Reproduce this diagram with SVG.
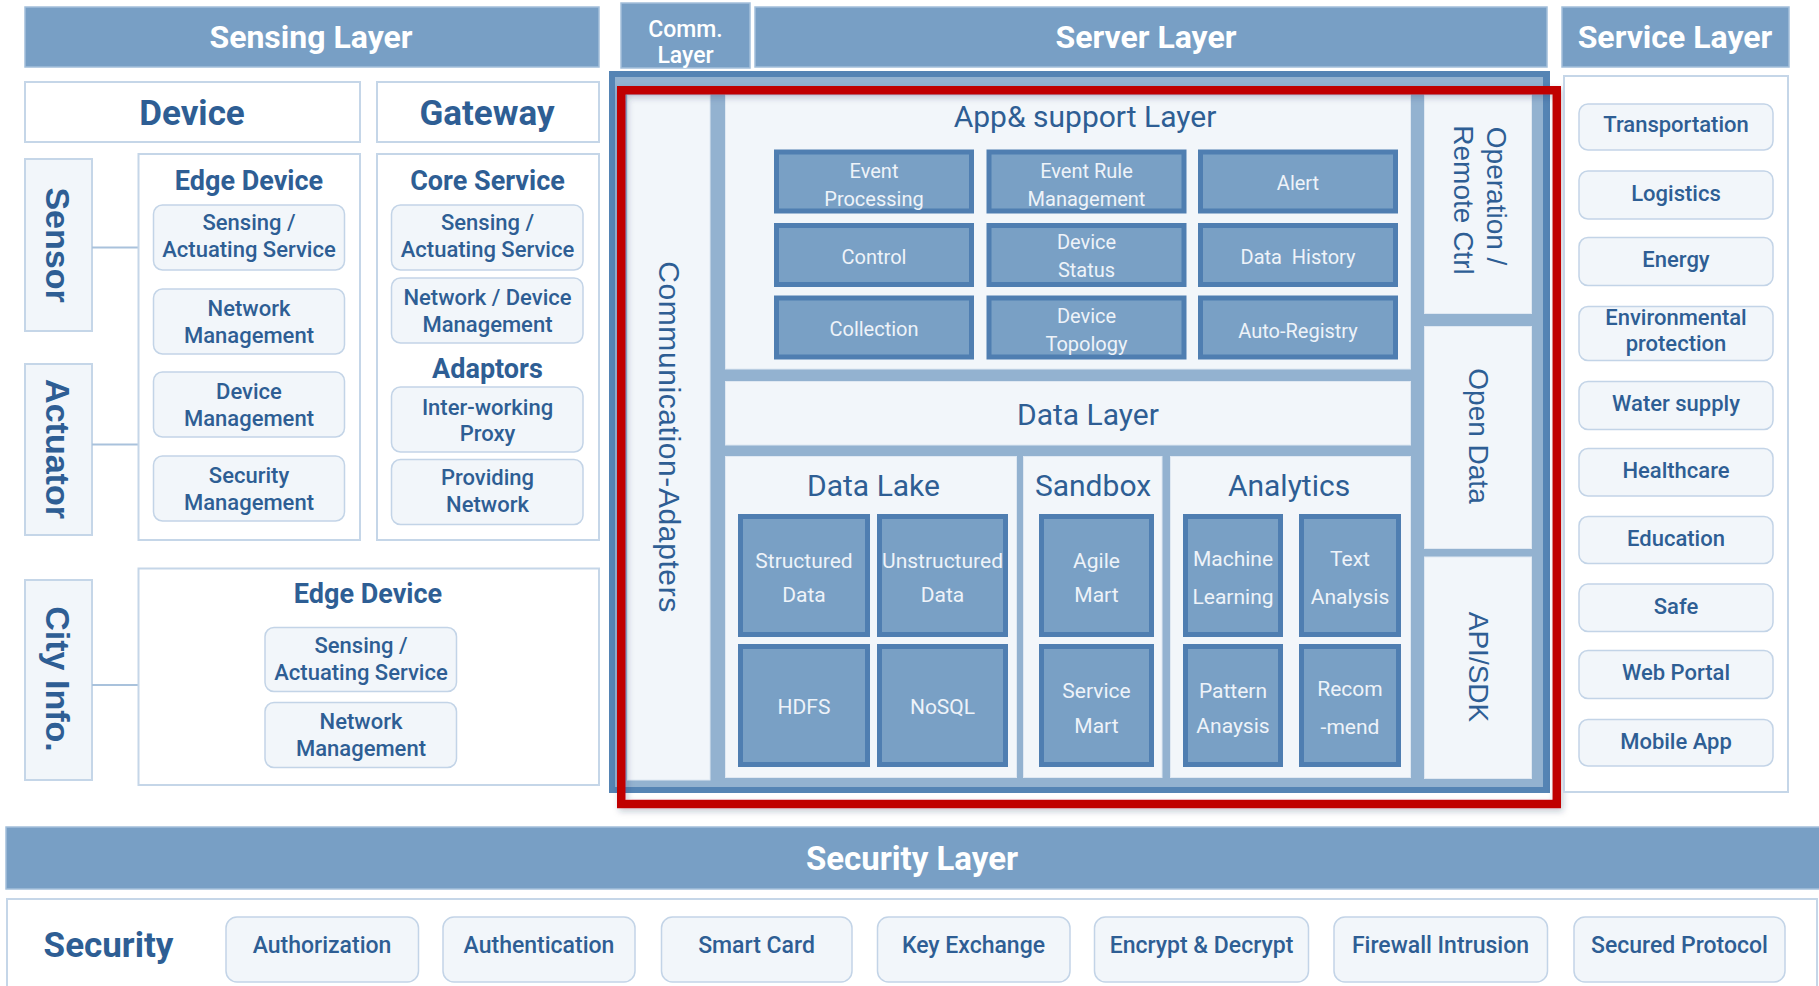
<svg xmlns="http://www.w3.org/2000/svg" width="1819" height="986" viewBox="0 0 1819 986">
  <defs>
    <style>
      .hdr { fill: #789fc5; stroke: #a3bfda; stroke-width: 1.5; }
      .hdr-t { fill: #ffffff; font-family: Roboto, "Liberation Sans", sans-serif; font-weight: bold; font-size: 32px; text-anchor: middle; dominant-baseline: central; }
      .box { fill: #ffffff; stroke: #c5d6e8; stroke-width: 2; }
      .side { fill: #f2f6fa; stroke: #c5d6e8; stroke-width: 2; }
      .item { fill: #f2f6fa; stroke: #c3d4e7; stroke-width: 1.5; }
      .pnl { fill: #f2f6fa; stroke: #dfe8f2; stroke-width: 1; }
      .dk { fill: #79a0c5; stroke: #4f7eb1; stroke-width: 5; }
      .big { fill: #2e5e94; font-family: Roboto, "Liberation Sans", sans-serif; font-weight: bold; font-size: 35px; text-anchor: middle; dominant-baseline: central; }
      .ttl { fill: #2e5e94; font-family: Roboto, "Liberation Sans", sans-serif; font-weight: bold; font-size: 27px; text-anchor: middle; dominant-baseline: central; }
      .it { fill: #2e5e94; font-family: Roboto, "Liberation Sans", sans-serif; font-weight: 500; font-size: 22px; text-anchor: middle; dominant-baseline: central; }
      .pt { fill: #2e5e94; font-family: Roboto, "Liberation Sans", sans-serif; font-size: 30px; text-anchor: middle; dominant-baseline: central; }
      .dt { fill: #eef3f9; font-family: Roboto, "Liberation Sans", sans-serif; font-size: 20px; text-anchor: middle; dominant-baseline: central; }
      .dt2 { fill: #eef3f9; font-family: Roboto, "Liberation Sans", sans-serif; font-size: 21px; text-anchor: middle; dominant-baseline: central; }
      .rv { fill: #2e5e94; font-family: "Liberation Sans", Arial, sans-serif; font-size: 28px; text-anchor: middle; dominant-baseline: central; }
      .rvb { fill: #2e5e94; font-family: "Liberation Sans", Arial, sans-serif; font-weight: bold; font-size: 34px; text-anchor: middle; dominant-baseline: central; }
      .conn { stroke: #a9c2dc; stroke-width: 2; fill: none; }
    </style>
    <filter id="shadow" x="-5%" y="-5%" width="110%" height="110%">
      <feDropShadow dx="2" dy="3" stdDeviation="3" flood-color="#1f3550" flood-opacity="0.25"/>
    </filter>
  </defs>

  <rect width="1819" height="986" fill="#ffffff"/>

  <!-- layer headers -->
  <g id="sensing-layer-header">
    <rect class="hdr" x="25" y="7" width="574" height="60"/>
    <text class="hdr-t" x="311" y="37">Sensing Layer</text>
  </g>
  <g id="comm-layer-header">
    <rect class="hdr" x="621" y="3" width="129" height="65"/>
    <text class="hdr-t" x="685.5" y="29" style="font-size:23px;font-weight:500">Comm.</text>
    <text class="hdr-t" x="685.5" y="55" style="font-size:23px;font-weight:500">Layer</text>
  </g>
  <g id="server-layer-header">
    <rect class="hdr" x="755" y="7" width="792" height="60"/>
    <text class="hdr-t" x="1146" y="37">Server Layer</text>
  </g>
  <g id="service-layer-header">
    <rect class="hdr" x="1562" y="7" width="227" height="60"/>
    <text class="hdr-t" x="1675" y="37">Service Layer</text>
  </g>

  <!-- sensing layer -->
  <g id="device">
    <rect class="box" x="25" y="82" width="335" height="60"/>
    <text class="big" x="192" y="113">Device</text>
  </g>
  <g id="gateway">
    <rect class="box" x="377" y="82" width="222" height="60"/>
    <text class="big" x="487" y="113">Gateway</text>
  </g>
  <g id="sensor">
    <rect class="side" x="25" y="159" width="67" height="172"/>
    <text class="rvb" transform="translate(58,245) rotate(90)">Sensor</text>
  </g>
  <g id="actuator">
    <rect class="side" x="25" y="364" width="67" height="171"/>
    <text class="rvb" transform="translate(58,449) rotate(90)">Actuator</text>
  </g>
  <g id="city-info">
    <rect class="side" x="25" y="580" width="67" height="200"/>
    <text class="rvb" transform="translate(58,679) rotate(90)">City Info.</text>
  </g>

  <g id="connectors">
    <line class="conn" x1="92" y1="247.5" x2="138.5" y2="247.5"/>
    <line class="conn" x1="92" y1="444.5" x2="138.5" y2="444.5"/>
    <line class="conn" x1="92" y1="685" x2="138.5" y2="685"/>
  </g>

  <g id="edge-device-1">
    <rect class="box" x="138.5" y="154" width="221.5" height="386"/>
    <text class="ttl" x="249" y="181">Edge Device</text>
    <rect class="item" x="153.5" y="205" width="191" height="65" rx="9"/>
    <text class="it" x="249" y="222.5">Sensing /</text>
    <text class="it" x="249" y="249.5">Actuating Service</text>
    <rect class="item" x="153.5" y="289" width="191" height="65" rx="9"/>
    <text class="it" x="249" y="308.5">Network</text>
    <text class="it" x="249" y="335.5">Management</text>
    <rect class="item" x="153.5" y="372" width="191" height="65" rx="9"/>
    <text class="it" x="249" y="391">Device</text>
    <text class="it" x="249" y="418">Management</text>
    <rect class="item" x="153.5" y="456" width="191" height="65" rx="9"/>
    <text class="it" x="249" y="475.5">Security</text>
    <text class="it" x="249" y="502">Management</text>
  </g>

  <g id="core-service">
    <rect class="box" x="377" y="154" width="222" height="386"/>
    <text class="ttl" x="487.5" y="181">Core Service</text>
    <rect class="item" x="391.5" y="205" width="191.5" height="65" rx="9"/>
    <text class="it" x="487.5" y="222.5">Sensing /</text>
    <text class="it" x="487.5" y="249.5">Actuating Service</text>
    <rect class="item" x="391.5" y="278" width="191.5" height="65" rx="9"/>
    <text class="it" x="487.5" y="297.5">Network / Device</text>
    <text class="it" x="487.5" y="324.5">Management</text>
    <text class="ttl" x="487.5" y="369">Adaptors</text>
    <rect class="item" x="391.5" y="387" width="191.5" height="65" rx="9"/>
    <text class="it" x="487.5" y="407">Inter-working</text>
    <text class="it" x="487.5" y="433">Proxy</text>
    <rect class="item" x="391.5" y="459.5" width="191.5" height="65" rx="9"/>
    <text class="it" x="487.5" y="477">Providing</text>
    <text class="it" x="487.5" y="504">Network</text>
  </g>

  <g id="edge-device-2">
    <rect class="box" x="138.5" y="568.5" width="460.5" height="216.5"/>
    <text class="ttl" x="368" y="594">Edge Device</text>
    <rect class="item" x="265" y="627.5" width="191.5" height="64" rx="9"/>
    <text class="it" x="361" y="645">Sensing /</text>
    <text class="it" x="361" y="672">Actuating Service</text>
    <rect class="item" x="265" y="702.5" width="191.5" height="65" rx="9"/>
    <text class="it" x="361" y="721.5">Network</text>
    <text class="it" x="361" y="748.5">Management</text>
  </g>

  <!-- server layer frame -->
  <g id="server-frame">
    <rect x="609" y="71" width="941" height="722" fill="#5584b4"/>
    <rect x="615" y="77" width="928" height="710" fill="#93b2d0"/>
  </g>

  <g id="communication-adapters">
    <rect class="pnl" x="627.5" y="95" width="82.5" height="685"/>
    <text class="rv" transform="translate(669,437) rotate(90)" style="font-size:30px;letter-spacing:0.6px">Communication-Adapters</text>
  </g>

  <g id="app-support-layer">
    <rect class="pnl" x="725.5" y="95" width="685" height="274"/>
    <text class="pt" x="1085" y="116">App&amp; support Layer</text>
    <g id="event-processing">
      <rect class="dk" x="776.5" y="152" width="195" height="59"/>
      <text class="dt" x="874" y="170.5">Event</text>
      <text class="dt" x="874" y="199">Processing</text>
    </g>
    <g id="event-rule-management">
      <rect class="dk" x="989" y="152" width="195" height="59"/>
      <text class="dt" x="1086.5" y="170.5">Event Rule</text>
      <text class="dt" x="1086.5" y="199">Management</text>
    </g>
    <g id="alert">
      <rect class="dk" x="1200.5" y="152" width="195" height="59"/>
      <text class="dt" x="1298" y="183">Alert</text>
    </g>
    <g id="control">
      <rect class="dk" x="776.5" y="225.5" width="195" height="59"/>
      <text class="dt" x="874" y="257">Control</text>
    </g>
    <g id="device-status">
      <rect class="dk" x="989" y="225.5" width="195" height="59"/>
      <text class="dt" x="1086.5" y="241.5">Device</text>
      <text class="dt" x="1086.5" y="270">Status</text>
    </g>
    <g id="data-history">
      <rect class="dk" x="1200.5" y="225.5" width="195" height="59"/>
      <text class="dt" x="1298" y="257" xml:space="preserve">Data  History</text>
    </g>
    <g id="collection">
      <rect class="dk" x="776.5" y="298" width="195" height="59"/>
      <text class="dt" x="874" y="329">Collection</text>
    </g>
    <g id="device-topology">
      <rect class="dk" x="989" y="298" width="195" height="59"/>
      <text class="dt" x="1086.5" y="315.5">Device</text>
      <text class="dt" x="1086.5" y="344">Topology</text>
    </g>
    <g id="auto-registry">
      <rect class="dk" x="1200.5" y="298" width="195" height="59"/>
      <text class="dt" x="1298" y="331">Auto-Registry</text>
    </g>
  </g>

  <g id="data-layer">
    <rect class="pnl" x="725.5" y="381.5" width="685" height="63.5"/>
    <text class="pt" x="1088" y="414">Data Layer</text>
  </g>

  <g id="data-lake">
    <rect class="pnl" x="725.5" y="456.5" width="291" height="321"/>
    <text class="pt" x="873.5" y="485">Data Lake</text>
    <rect class="dk" x="740.5" y="516.5" width="127" height="118"/>
    <text class="dt2" x="804" y="560.5">Structured</text>
    <text class="dt2" x="804" y="595">Data</text>
    <rect class="dk" x="879.5" y="516.5" width="126" height="118"/>
    <text class="dt2" x="942.5" y="560.5">Unstructured</text>
    <text class="dt2" x="942.5" y="595">Data</text>
    <rect class="dk" x="740.5" y="646.5" width="127" height="118"/>
    <text class="dt2" x="804" y="707">HDFS</text>
    <rect class="dk" x="879.5" y="646.5" width="126" height="118"/>
    <text class="dt2" x="942.5" y="707">NoSQL</text>
  </g>

  <g id="sandbox">
    <rect class="pnl" x="1023.5" y="456.5" width="138.5" height="321"/>
    <text class="pt" x="1093" y="485">Sandbox</text>
    <rect class="dk" x="1041.5" y="516.5" width="110" height="118"/>
    <text class="dt2" x="1096.5" y="560.5">Agile</text>
    <text class="dt2" x="1096.5" y="595">Mart</text>
    <rect class="dk" x="1041.5" y="646.5" width="110" height="118"/>
    <text class="dt2" x="1096.5" y="690.5">Service</text>
    <text class="dt2" x="1096.5" y="725.5">Mart</text>
  </g>

  <g id="analytics">
    <rect class="pnl" x="1170.5" y="456.5" width="240" height="321"/>
    <text class="pt" x="1289" y="485">Analytics</text>
    <rect class="dk" x="1185.5" y="516.5" width="95" height="118"/>
    <text class="dt2" x="1233" y="559">Machine</text>
    <text class="dt2" x="1233" y="597">Learning</text>
    <rect class="dk" x="1301.5" y="516.5" width="97" height="118"/>
    <text class="dt2" x="1350" y="558.5">Text</text>
    <text class="dt2" x="1350" y="597">Analysis</text>
    <rect class="dk" x="1185.5" y="646.5" width="95" height="118"/>
    <text class="dt2" x="1233" y="690.5">Pattern</text>
    <text class="dt2" x="1233" y="725.5">Anaysis</text>
    <rect class="dk" x="1301.5" y="646.5" width="97" height="118"/>
    <text class="dt2" x="1350" y="689">Recom</text>
    <text class="dt2" x="1350" y="727">-mend</text>
  </g>

  <g id="operation-remote-ctrl">
    <rect class="pnl" x="1424.5" y="95" width="107" height="218.5"/>
    <text class="rv" transform="translate(1480,200) rotate(90)">
      <tspan x="0" y="-16.5">Operation /</tspan>
      <tspan x="0" y="16.5">Remote Ctrl</tspan>
    </text>
  </g>
  <g id="open-data">
    <rect class="pnl" x="1424.5" y="326.5" width="107" height="222"/>
    <text class="rv" transform="translate(1478,436) rotate(90)">Open Data</text>
  </g>
  <g id="api-sdk">
    <rect class="pnl" x="1424.5" y="557" width="107" height="221.5"/>
    <text class="rv" transform="translate(1478,667) rotate(90)">API/SDK</text>
  </g>

  <!-- highlight outline round the server layer -->
  <rect id="highlight" x="621.25" y="90.25" width="935.5" height="713.75" fill="none" stroke="#c00000" stroke-width="8.5" filter="url(#shadow)"/>

  <!-- service layer -->
  <g id="service-layer">
    <rect class="box" x="1564" y="76" width="224" height="716"/>
    <rect class="item" x="1579" y="104" width="194" height="46" rx="9"/>
    <text class="it" x="1676" y="124.5">Transportation</text>
    <rect class="item" x="1579" y="171" width="194" height="48" rx="9"/>
    <text class="it" x="1676" y="193">Logistics</text>
    <rect class="item" x="1579" y="237.5" width="194" height="48" rx="9"/>
    <text class="it" x="1676" y="259.5">Energy</text>
    <rect class="item" x="1579" y="306.5" width="194" height="54" rx="9"/>
    <text class="it" x="1676" y="317">Environmental</text>
    <text class="it" x="1676" y="343.5">protection</text>
    <rect class="item" x="1579" y="381.5" width="194" height="48" rx="9"/>
    <text class="it" x="1676" y="403">Water supply</text>
    <rect class="item" x="1579" y="448.5" width="194" height="47.5" rx="9"/>
    <text class="it" x="1676" y="470">Healthcare</text>
    <rect class="item" x="1579" y="516.5" width="194" height="47" rx="9"/>
    <text class="it" x="1676" y="538">Education</text>
    <rect class="item" x="1579" y="584" width="194" height="47.5" rx="9"/>
    <text class="it" x="1676" y="606">Safe</text>
    <rect class="item" x="1579" y="650.5" width="194" height="48" rx="9"/>
    <text class="it" x="1676" y="672.5">Web Portal</text>
    <rect class="item" x="1579" y="719.5" width="194" height="46.5" rx="9"/>
    <text class="it" x="1676" y="741">Mobile App</text>
  </g>

  <!-- security layer -->
  <g id="security-layer-header">
    <rect class="hdr" x="6" y="827" width="1816" height="62"/>
    <text class="hdr-t" x="912" y="858" style="font-size:33px">Security Layer</text>
  </g>
  <g id="security-layer">
    <rect class="box" x="7" y="899" width="1810" height="100"/>
    <text class="big" x="108.5" y="945" style="font-size:35px">Security</text>
    <rect class="item" x="226" y="917" width="192.5" height="65" rx="11"/>
    <text class="it" x="322" y="945.5" style="font-size:23px">Authorization</text>
    <rect class="item" x="443" y="917" width="192" height="65" rx="11"/>
    <text class="it" x="539" y="945.5" style="font-size:23px">Authentication</text>
    <rect class="item" x="661.5" y="917" width="190.5" height="65" rx="11"/>
    <text class="it" x="756.5" y="945.5" style="font-size:23px">Smart Card</text>
    <rect class="item" x="877.5" y="917" width="192.5" height="65" rx="11"/>
    <text class="it" x="973.5" y="945.5" style="font-size:23px">Key Exchange</text>
    <rect class="item" x="1094.5" y="917" width="214" height="65" rx="11"/>
    <text class="it" x="1201.5" y="945.5" style="font-size:23px">Encrypt &amp; Decrypt</text>
    <rect class="item" x="1334" y="917" width="213.5" height="65" rx="11"/>
    <text class="it" x="1440.5" y="945.5" style="font-size:23px">Firewall Intrusion</text>
    <rect class="item" x="1574" y="917" width="211" height="65" rx="11"/>
    <text class="it" x="1679.5" y="945.5" style="font-size:23px">Secured Protocol</text>
  </g>
</svg>
